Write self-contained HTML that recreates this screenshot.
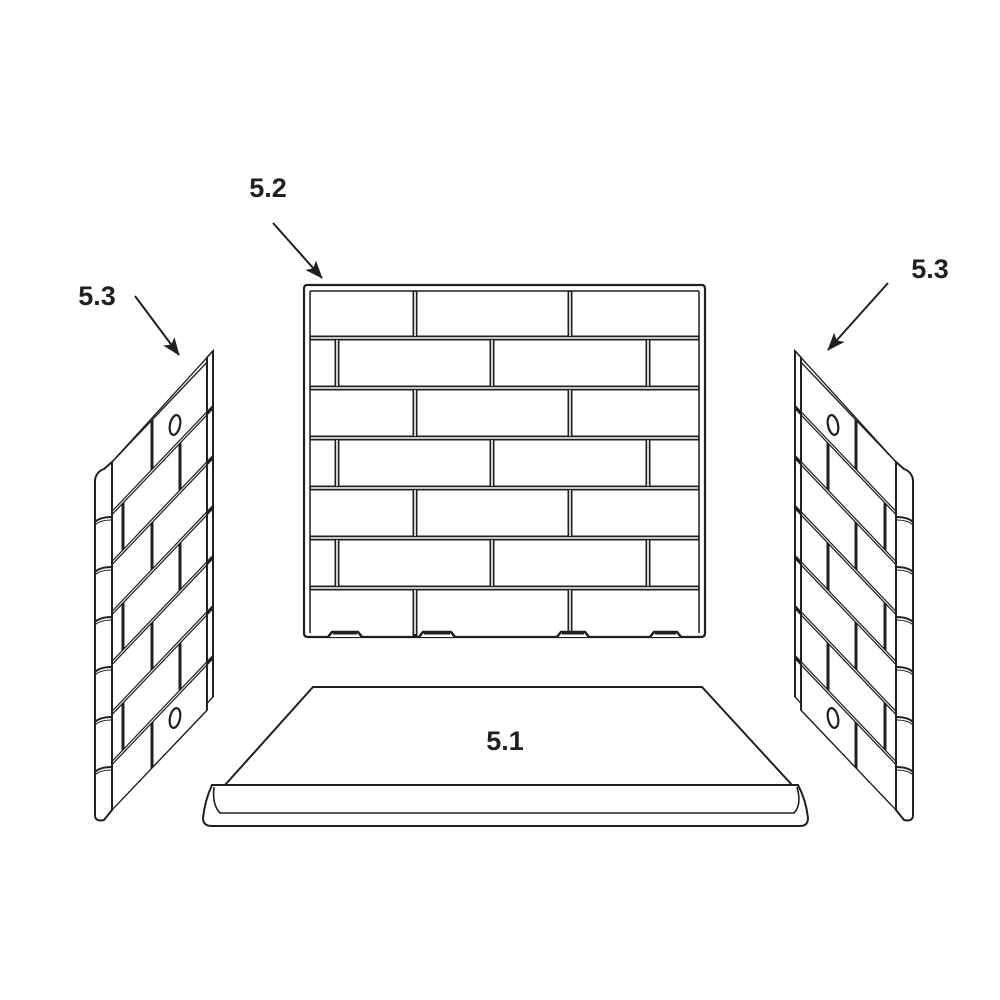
<!DOCTYPE html>
<html><head><meta charset="utf-8"><style>
html,body{margin:0;padding:0;background:#fff;}
svg{display:block;}
text{font-family:"Liberation Sans",Arial,sans-serif;font-weight:bold;font-size:27px;fill:#231f20;}
</style></head><body>
<svg width="1000" height="1000" viewBox="0 0 1000 1000" xmlns="http://www.w3.org/2000/svg">
<defs>
<marker id="ah" markerWidth="18" markerHeight="14" refX="17" refY="7" orient="auto" markerUnits="userSpaceOnUse" viewBox="0 0 18 14">
<path d="M0,0 L18,7 L0,14 L4,7 z" fill="#231f20"/></marker>
<g id="side" fill="none" stroke="#231f20" stroke-width="2">
 <!-- left vertical strip -->
 <path d="M95,480 Q96,472 104,469 L112,462 L112,810 L104,820 Q95,822 95,815 Z" fill="#fff"/>
 <g stroke-width="2">
  <path d="M95,522 Q100,517 112,517"/><path d="M95,525 Q100,520 112,520" stroke-width="1"/>
  <path d="M95,572 Q100,567 112,567"/><path d="M95,575 Q100,570 112,570" stroke-width="1"/>
  <path d="M95,622 Q100,617 112,617"/><path d="M95,625 Q100,620 112,620" stroke-width="1"/>
  <path d="M95,672 Q100,667 112,667"/><path d="M95,675 Q100,670 112,670" stroke-width="1"/>
  <path d="M95,722 Q100,717 112,717"/><path d="M95,725 Q100,720 112,720" stroke-width="1"/>
  <path d="M95,772 Q100,767 112,767"/><path d="M95,775 Q100,770 112,770" stroke-width="1"/>
 </g>
 <g transform="matrix(1,-1.05,0,1,0,117.6)">
  <rect x="112" y="462" width="95" height="348" fill="#fff"/>
  <rect x="207" y="457" width="6" height="346" fill="#fff"/>
  <line x1="112" y1="462" x2="213" y2="457"/>
  <g stroke-width="5">
   <line x1="112" y1="513" x2="213" y2="513"/>
   <line x1="112" y1="563" x2="213" y2="563"/>
   <line x1="112" y1="613" x2="213" y2="613"/>
   <line x1="112" y1="663" x2="213" y2="663"/>
   <line x1="112" y1="713" x2="213" y2="713"/>
   <line x1="112" y1="763" x2="213" y2="763"/>
  </g>
  <g stroke="#fff" stroke-width="1.4">
   <line x1="113" y1="513" x2="206" y2="513"/>
   <line x1="113" y1="563" x2="206" y2="563"/>
   <line x1="113" y1="613" x2="206" y2="613"/>
   <line x1="113" y1="663" x2="206" y2="663"/>
   <line x1="113" y1="713" x2="206" y2="713"/>
   <line x1="113" y1="763" x2="206" y2="763"/>
  </g>
  <g stroke-width="3">
   <line x1="152" y1="462" x2="152" y2="511"/>
   <line x1="123" y1="515" x2="123" y2="561"/><line x1="180" y1="515" x2="180" y2="561"/>
   <line x1="152" y1="565" x2="152" y2="611"/>
   <line x1="123" y1="615" x2="123" y2="661"/><line x1="180" y1="615" x2="180" y2="661"/>
   <line x1="152" y1="665" x2="152" y2="711"/>
   <line x1="123" y1="715" x2="123" y2="761"/><line x1="180" y1="715" x2="180" y2="761"/>
   <line x1="152" y1="765" x2="152" y2="810"/>
  </g>
 </g>
 <ellipse cx="175" cy="425" rx="5" ry="10" transform="rotate(12 175 425)" stroke-width="2.2"/>
 <ellipse cx="175" cy="718" rx="5" ry="10" transform="rotate(12 175 718)" stroke-width="2.2"/>
</g>
</defs>

<!-- center back panel -->
<g fill="none" stroke="#231f20">
 <path d="M307,285 L702,285 Q705,285 705,289 L705,633 Q705,637 701,637 L308,637 Q304,637 304,633 L304,289 Q304,285 307,285 Z" fill="#fff" stroke-width="2.2"/>
 <line x1="310" y1="291" x2="699" y2="291" stroke-width="1.5"/>
 <line x1="310" y1="291" x2="310" y2="633" stroke-width="1.5"/>
 <line x1="699" y1="291" x2="699" y2="633" stroke-width="1.5"/>
 <g>
  <g stroke-width="5"><line x1="310" y1="338" x2="699" y2="338"/><line x1="310" y1="388" x2="699" y2="388"/><line x1="310" y1="438" x2="699" y2="438"/><line x1="310" y1="488" x2="699" y2="488"/><line x1="310" y1="538" x2="699" y2="538"/><line x1="310" y1="588" x2="699" y2="588"/>
  <line x1="415" y1="291" x2="415" y2="338"/><line x1="570" y1="291" x2="570" y2="338"/>
  <line x1="337" y1="338" x2="337" y2="388"/><line x1="492" y1="338" x2="492" y2="388"/><line x1="648" y1="338" x2="648" y2="388"/>
  <line x1="415" y1="388" x2="415" y2="438"/><line x1="570" y1="388" x2="570" y2="438"/>
  <line x1="337" y1="438" x2="337" y2="488"/><line x1="492" y1="438" x2="492" y2="488"/><line x1="648" y1="438" x2="648" y2="488"/>
  <line x1="415" y1="488" x2="415" y2="538"/><line x1="570" y1="488" x2="570" y2="538"/>
  <line x1="337" y1="538" x2="337" y2="588"/><line x1="492" y1="538" x2="492" y2="588"/><line x1="648" y1="538" x2="648" y2="588"/>
  <line x1="415" y1="588" x2="415" y2="637"/><line x1="570" y1="588" x2="570" y2="637"/></g>
  <g stroke="#fff" stroke-width="1.6"><line x1="311" y1="338" x2="698" y2="338"/><line x1="311" y1="388" x2="698" y2="388"/><line x1="311" y1="438" x2="698" y2="438"/><line x1="311" y1="488" x2="698" y2="488"/><line x1="311" y1="538" x2="698" y2="538"/><line x1="311" y1="588" x2="698" y2="588"/>
  <line x1="415" y1="292" x2="415" y2="336"/><line x1="570" y1="292" x2="570" y2="336"/>
  <line x1="337" y1="340" x2="337" y2="386"/><line x1="492" y1="340" x2="492" y2="386"/><line x1="648" y1="340" x2="648" y2="386"/>
  <line x1="415" y1="390" x2="415" y2="436"/><line x1="570" y1="390" x2="570" y2="436"/>
  <line x1="337" y1="440" x2="337" y2="486"/><line x1="492" y1="440" x2="492" y2="486"/><line x1="648" y1="440" x2="648" y2="486"/>
  <line x1="415" y1="490" x2="415" y2="536"/><line x1="570" y1="490" x2="570" y2="536"/>
  <line x1="337" y1="540" x2="337" y2="586"/><line x1="492" y1="540" x2="492" y2="586"/><line x1="648" y1="540" x2="648" y2="586"/>
  <line x1="415" y1="590" x2="415" y2="634"/><line x1="570" y1="590" x2="570" y2="634"/></g>
 </g>
 <g stroke-width="2.5" fill="#fff">
  <path d="M328,637 L332,632 L358,632 L362,637"/>
  <path d="M419,637 L423,632 L451,632 L455,637"/>
  <path d="M557,637 L561,632 L585,632 L589,637"/>
  <path d="M650,637 L654,632 L677,632 L681,637"/>
 </g>
 <g stroke-width="3"><line x1="333" y1="633" x2="357" y2="633"/><line x1="424" y1="633" x2="450" y2="633"/><line x1="562" y1="633" x2="584" y2="633"/><line x1="655" y1="633" x2="676" y2="633"/></g>
</g>

<use href="#side"/>
<use href="#side" transform="translate(1008,0) scale(-1,1)"/>

<!-- hearth -->
<g fill="#fff" stroke="#231f20" stroke-width="2">
 <path d="M313,687 L702,687 L792,785 L225,785 Z"/>
 <path d="M212,785 L798,785 Q806,800 808,818 Q808,826 800,826 L212,826 Q203,826 203,818 Q205,800 212,785 Z"/>
 <path d="M214,787 Q212,805 220,813 L794,813 Q802,805 797,787" fill="none" stroke-width="1.6"/>
</g>

<g stroke="#231f20" stroke-width="2" fill="none">
 <line x1="273" y1="223" x2="322" y2="278" marker-end="url(#ah)"/>
 <line x1="135" y1="296" x2="179" y2="355" marker-end="url(#ah)"/>
 <line x1="888" y1="283" x2="828" y2="350" marker-end="url(#ah)"/>
</g>
<text x="268" y="197" text-anchor="middle">5.2</text>
<text x="97" y="305" text-anchor="middle">5.3</text>
<text x="930" y="278" text-anchor="middle">5.3</text>
<text x="505" y="750" text-anchor="middle">5.1</text>
</svg>
</body></html>
